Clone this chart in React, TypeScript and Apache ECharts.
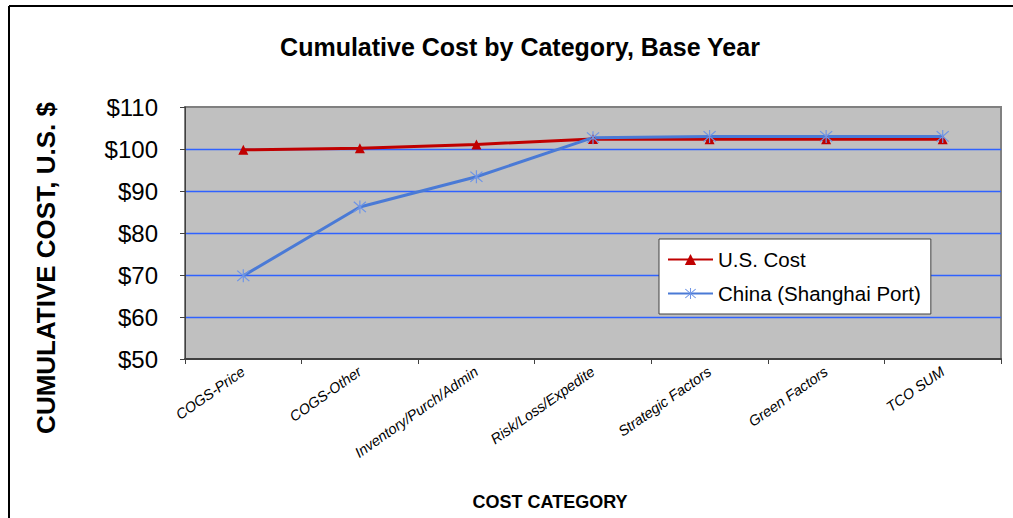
import React, { useEffect, useRef } from "react";
import * as echarts from "echarts";

const categories = [
  "COGS-Price",
  "COGS-Other",
  "Inventory/Purch/Admin",
  "Risk/Loss/Expedite",
  "Strategic Factors",
  "Green Factors",
  "TCO SUM",
];
const usCost = [99.8, 100.2, 101.1, 102.4, 102.3, 102.3, 102.3];
const chinaCost = [69.8, 86.2, 93.4, 102.7, 103.0, 103.0, 103.0];
const seriesNames = ["U.S. Cost", "China (Shanghai Port)"];

const FONT = "Liberation Sans, Arial, sans-serif";
const ASTERISK =
  "path://M9.2,0 L10.8,0 L10.8,20 L9.2,20 Z M1.4,2.6 L2.6,1.4 L18.6,17.4 L17.4,18.6 Z M17.4,1.4 L18.6,2.6 L2.6,18.6 L1.4,17.4 Z";

export default function App() {
  const ref = useRef<HTMLDivElement>(null);
  useEffect(() => {
    document.body.style.margin = "0";
    if (!ref.current) return;
    const chart = echarts.init(ref.current, null, { renderer: "svg" });
    chart.setOption({
      animation: false,
      backgroundColor: "#ffffff",
      title: {
        text: "Cumulative Cost by Category, Base Year",
        left: 515,
        top: 29,
        textAlign: "center",
        textStyle: { fontFamily: FONT, fontSize: 25, fontWeight: "bold", color: "#000" },
      },
      graphic: [
        { type: "line", shape: { x1: 9, y1: 6, x2: 1013, y2: 6 }, style: { stroke: "#000", lineWidth: 2 } },
        { type: "line", shape: { x1: 9, y1: 6, x2: 9, y2: 518 }, style: { stroke: "#000", lineWidth: 2 } },
      ],
      legend: {
        orient: "vertical",
        left: 659,
        top: 239,
        data: seriesNames,
        backgroundColor: "#ffffff",
        borderColor: "#404040",
        borderWidth: 1,
        borderRadius: 0,
        padding: [10, 10, 10, 8],
        itemGap: 13,
        itemWidth: 45,
        itemHeight: 14,
        textStyle: { fontFamily: FONT, fontSize: 20.5, color: "#000" },
      },
      grid: {
        left: 185,
        right: 12,
        top: 107,
        bottom: 159,
        show: true,
        backgroundColor: "#c0c0c0",
        borderColor: "#808080",
        borderWidth: 2,
      },
      xAxis: {
        type: "category",
        data: categories,
        boundaryGap: true,
        name: "COST CATEGORY",
        nameLocation: "middle",
        nameGap: 134,
        nameTextStyle: {
          fontFamily: FONT,
          fontSize: 18,
          fontWeight: "bold",
          color: "#000",
          padding: [0, 86, 0, 0],
        },
        axisLine: { lineStyle: { color: "#404040", width: 2 } },
        axisTick: { show: true, inside: false, length: 5, lineStyle: { color: "#404040" } },
        axisLabel: {
          rotate: 35,
          interval: 0,
          margin: 11,
          fontFamily: FONT,
          fontSize: 14.5,
          fontStyle: "italic",
          color: "#000",
        },
        splitLine: { show: false },
      },
      yAxis: {
        type: "value",
        min: 50,
        max: 110,
        interval: 10,
        name: "CUMULATIVE COST, U.S. $",
        nameLocation: "middle",
        nameRotate: 90,
        nameGap: 126,
        nameTextStyle: {
          fontFamily: FONT,
          fontSize: 26,
          fontWeight: "bold",
          color: "#000",
          padding: [0, 70, 0, 0],
        },
        axisLine: { show: true, lineStyle: { color: "#404040", width: 1 } },
        axisTick: { show: true, inside: false, length: 5, lineStyle: { color: "#404040" } },
        axisLabel: {
          margin: 27,
          fontFamily: FONT,
          fontSize: 24,
          color: "#000",
          formatter: (v: number) => "$" + v,
        },
        splitLine: {
          show: true,
          showMinLine: false,
          showMaxLine: false,
          lineStyle: { color: "#2f62ff", width: 1.4 },
        },
      },
      series: [
        {
          name: seriesNames[0],
          type: "line",
          data: usCost,
          symbol: "triangle",
          symbolSize: 10,
          lineStyle: { color: "#c00000", width: 3 },
          itemStyle: { color: "#c00000" },
        },
        {
          name: seriesNames[1],
          type: "line",
          data: chinaCost,
          symbol: ASTERISK,
          symbolSize: 13,
          lineStyle: { color: "#4a7ad6", width: 3 },
          itemStyle: { color: "#6f95e6" },
        },
      ],
    });
    return () => chart.dispose();
  }, []);
  return <div ref={ref} style={{ width: 1013, height: 518 }} />;
}
